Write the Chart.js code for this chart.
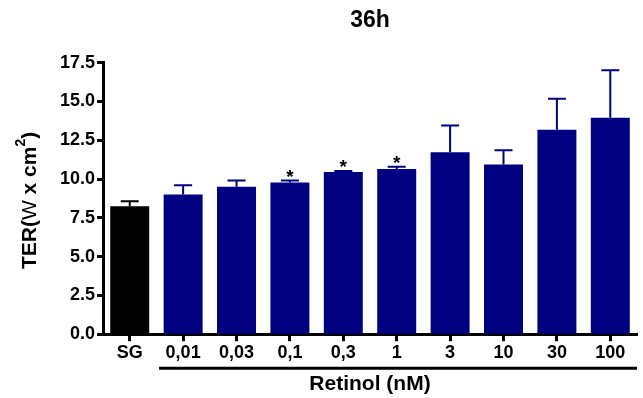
<!DOCTYPE html>
<html>
<head>
<meta charset="utf-8">
<script src="https://cdn.jsdelivr.net/npm/chart.js@4/dist/chart.umd.min.js"></script>
<style>
html,body{margin:0;padding:0;background:#fff;}
#wrap{width:643px;height:398px;position:relative;}
</style>
</head>
<body>
<div id="wrap"><canvas id="c"></canvas></div>
<script>
const categories = ['SG','0,01','0,03','0,1','0,3','1','3','10','30','100'];
const means = [8.25, 9.0, 9.5, 9.78, 10.45, 10.65, 11.72, 10.93, 13.17, 13.95];
const errors = [0.32, 0.6, 0.4, 0.12, 0.07, 0.14, 1.73, 0.92, 2.0, 3.05];
const significance = ['', '', '', '*', '*', '*', '', '', '', ''];
const barColors = ['#000000','#000080','#000080','#000080','#000080','#000080','#000080','#000080','#000080','#000080'];
const yTicks = [0, 2.5, 5, 7.5, 10, 12.5, 15, 17.5];
const chartTitle = '36h';
const xTitle = 'Retinol (nM)';
const yTitleParts = [
  {t:'TER(', f:'bold 21px "Liberation Sans", Arial, sans-serif', sup:false},
  {t:'W', f:'21px "Liberation Sans", Arial, sans-serif', sup:false},
  {t:' x cm', f:'bold 21px "Liberation Sans", Arial, sans-serif', sup:false},
  {t:'2', f:'bold 14px "Liberation Sans", Arial, sans-serif', sup:true},
  {t:')', f:'bold 21px "Liberation Sans", Arial, sans-serif', sup:false}
];
const FONT = '"Liberation Sans", Arial, sans-serif';

const extras = {
  id: 'extras',
  afterDatasetsDraw(chart) {
    const ctx = chart.ctx;
    const meta = chart.getDatasetMeta(0);
    const y = chart.scales.y;
    const x = chart.scales.x;
    ctx.save();
    meta.data.forEach((bar, i) => {
      const top = y.getPixelForValue(means[i]);
      const et = y.getPixelForValue(means[i] + errors[i]);
      ctx.strokeStyle = barColors[i];
      ctx.lineWidth = 2;
      ctx.beginPath();
      ctx.moveTo(bar.x, top);
      ctx.lineTo(bar.x, et);
      ctx.moveTo(bar.x - 9, et);
      ctx.lineTo(bar.x + 9, et);
      ctx.stroke();
      if (significance[i]) {
        ctx.fillStyle = '#000';
        ctx.font = 'bold 19px ' + FONT;
        ctx.textAlign = 'center';
        ctx.textBaseline = 'alphabetic';
        ctx.fillText(significance[i], bar.x, et + 2);
      }
    });
    // bracket line under Retinol groups
    const cw = x.getPixelForValue(2) - x.getPixelForValue(1);
    const x0 = x.getPixelForValue(1) - cw * 0.45;
    const x1 = chart.chartArea.right;
    const ly = chart.chartArea.bottom + 34;
    ctx.strokeStyle = '#000';
    ctx.lineWidth = 3;
    ctx.beginPath();
    ctx.moveTo(x0, ly);
    ctx.lineTo(x1, ly);
    ctx.stroke();
    // y axis title
    ctx.translate(30, (chart.chartArea.top + chart.chartArea.bottom) / 2 + 2);
    ctx.rotate(-Math.PI / 2);
    let total = 0;
    yTitleParts.forEach(p => { ctx.font = p.f; total += ctx.measureText(p.t).width; });
    let cx = -total / 2;
    ctx.fillStyle = '#000';
    ctx.textAlign = 'left';
    ctx.textBaseline = 'middle';
    yTitleParts.forEach(p => {
      ctx.font = p.f;
      ctx.fillText(p.t, cx, p.sup ? -9 : 0);
      cx += ctx.measureText(p.t).width;
    });
    ctx.restore();
  }
};

new Chart(document.getElementById('c'), {
  type: 'bar',
  data: {
    labels: categories,
    datasets: [{
      data: means,
      backgroundColor: barColors,
      borderWidth: 0,
      barPercentage: 0.73,
      categoryPercentage: 1.0
    }]
  },
  options: {
    responsive: true,
    maintainAspectRatio: false,
    animation: false,
    layout: { padding: { left: 58, right: 6, top: 0, bottom: 1 } },
    plugins: {
      legend: { display: false },
      tooltip: { enabled: false },
      title: {
        display: true,
        fullSize: false,
        text: chartTitle,
        color: '#000',
        font: { family: FONT, size: 23, weight: 'bold' },
        padding: { top: 7, bottom: 28 }
      }
    },
    scales: {
      x: {
        grid: { display: true, drawOnChartArea: false, drawTicks: true, offset: false, tickLength: 7, tickWidth: 3, tickColor: '#000' },
        border: { display: true, color: '#000', width: 3 },
        ticks: { color: '#000', font: { family: FONT, size: 18, weight: 'bold' }, padding: 1, maxRotation: 0, autoSkip: false },
        title: { display: true, text: xTitle, color: '#000', font: { family: FONT, size: 21, weight: 'bold' }, padding: { top: 7, bottom: 0 } }
      },
      y: {
        min: 0, max: 17.5,
        afterBuildTicks(scale) { scale.ticks = yTicks.map(v => ({ value: v })); },
        grid: { display: true, drawOnChartArea: false, drawTicks: true, tickLength: 6, tickWidth: 3, tickColor: '#000' },
        border: { display: true, color: '#000', width: 3 },
        ticks: { color: '#000', font: { family: FONT, size: 18, weight: 'bold' }, padding: 2, callback: v => Number(v).toFixed(1) }
      }
    }
  },
  plugins: [extras]
});
</script>
</body>
</html>
